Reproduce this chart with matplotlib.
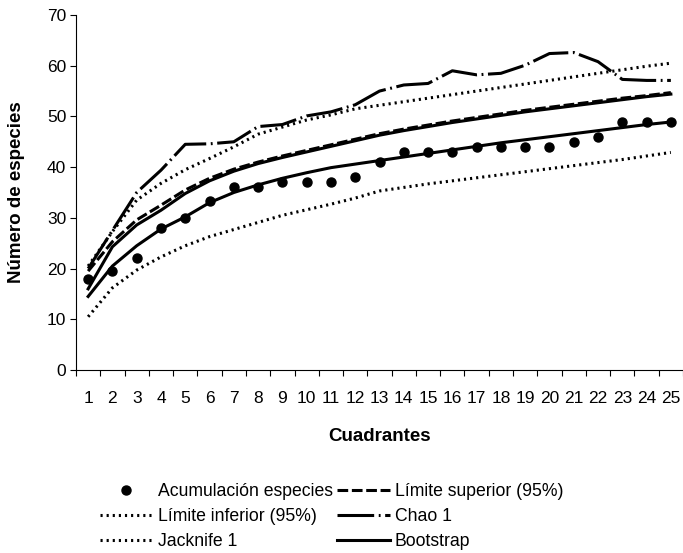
"""
Curvas de acumulación de especies por cuadrante
"""

import matplotlib
matplotlib.use('Agg')
import matplotlib.pyplot as plt

plt.rcParams['font.family'] = ['Liberation Sans', 'DejaVu Sans']

# datos
cuadrantes = list(range(1, 26))
acumulacion = [18, 19.5, 22, 28, 30, 33.3, 36, 36, 37, 37, 37, 38, 41, 43, 43, 43,
               44, 44, 44, 44, 45, 46, 49, 49, 49]
sobs_curva = [14.5, 20.5, 24.5, 27.8, 30.2, 33, 35, 36.5, 37.8, 38.9, 39.9, 40.6, 41.3,
              42, 42.7, 43.4, 44.1, 44.8, 45.4, 46, 46.6, 47.2, 47.8, 48.4, 48.9]
limite_inferior = [10.5, 16.2, 19.7, 22.3, 24.5, 26.3, 27.7, 29.1, 30.5, 31.6, 32.7, 33.9,
                   35.3, 36, 36.7, 37.3, 37.9, 38.5, 39.1, 39.7, 40.3, 40.9, 41.5, 42.2, 42.9]
limite_superior = [19.5, 25.3, 29.6, 32.5, 35.5, 37.8, 39.6, 41, 42.2, 43.3, 44.4, 45.5,
                   46.6, 47.5, 48.3, 49.1, 49.8, 50.5, 51.2, 51.8, 52.4, 53, 53.6, 54.1, 54.7]
bootstrap = [16, 24.3, 28.6, 31.5, 34.8, 37.3, 39.2, 40.7, 41.9, 43, 44.1, 45.2, 46.3,
             47.2, 48, 48.8, 49.5, 50.2, 50.9, 51.5, 52.1, 52.7, 53.3, 53.9, 54.4]
jacknife = [20.5, 27.3, 33.5, 36.8, 39.5, 41.7, 44, 46.5, 47.9, 49.3, 50.3, 51.5, 52.2,
            52.9, 53.6, 54.3, 55, 55.7, 56.4, 57.1, 57.8, 58.5, 59.2, 59.9, 60.5]
chao1 = [20, 27.5, 35, 39.4, 44.5, 44.6, 45, 48, 48.4, 50.1, 50.9, 52.3, 55, 56.2, 56.5,
         59, 58.2, 58.5, 60.1, 62.4, 62.6, 60.8, 57.3, 57.1, 57.1]


def main():
    fig = plt.figure(figsize=(6.83, 5.53), dpi=100)
    ax = fig.add_axes([76 / 683, 1 - 370 / 553, 1 - 76 / 683, 355 / 553])

    lw = 2.2
    h_acum, = ax.plot(cuadrantes, acumulacion, 'o', color='black', markersize=6.5,
                      label='Acumulación especies')
    ax.plot(cuadrantes, sobs_curva, '-', color='black', lw=lw, label='_nolegend_')
    h_sup, = ax.plot(cuadrantes, limite_superior, color='black', lw=lw,
                     dashes=(3.5, 1.2), label='Límite superior (95%)')
    h_inf, = ax.plot(cuadrantes, limite_inferior, color='black', lw=lw,
                     dashes=(0.7, 1.3), label='Límite inferior (95%)')
    h_chao, = ax.plot(cuadrantes, chao1, color='black', lw=lw,
                      dashes=(12, 1.5, 0.6, 1.5), label='Chao 1')
    h_jack, = ax.plot(cuadrantes, jacknife, color='black', lw=lw,
                      dashes=(0.7, 1.3), label='Jacknife 1')
    h_boot, = ax.plot(cuadrantes, bootstrap, '-', color='black', lw=lw, label='Bootstrap')

    ax.set_xlim(0.5, 25.5)
    ax.set_ylim(0, 70)
    ax.set_yticks(range(0, 71, 10))
    ax.set_xticks(cuadrantes)
    ax.set_xticks([i + 0.5 for i in range(0, 26)], minor=True)
    ax.tick_params(axis='x', which='major', length=0, pad=15, labelsize=12.5)
    ax.tick_params(axis='x', which='minor', length=4, width=0.8)
    ax.tick_params(axis='y', length=4, width=0.8, pad=3, labelsize=12.5)

    for side in ['top', 'right']:
        ax.spines[side].set_visible(False)
    for side in ['left', 'bottom']:
        ax.spines[side].set_linewidth(0.8)

    ax.set_ylabel('Número de especies', fontsize=13.5, fontweight='bold')
    ax.yaxis.set_label_coords(-0.084, 0.5)
    ax.set_xlabel('Cuadrantes', fontsize=13.5, fontweight='bold', labelpad=16)

    handles = [h_acum, h_inf, h_jack, h_sup, h_chao, h_boot]
    fig.legend(handles=handles, labels=[h.get_label() for h in handles], ncol=2,
               loc='upper left', bbox_to_anchor=(100 / 683, 1 - 483 / 553),
               frameon=False, fontsize=12.7, handlelength=3.0, handletextpad=0.3,
               columnspacing=0.2, borderpad=0, borderaxespad=0, labelspacing=0.45)

    fig.savefig('out.png', dpi=100)


if __name__ == '__main__':
    main()
